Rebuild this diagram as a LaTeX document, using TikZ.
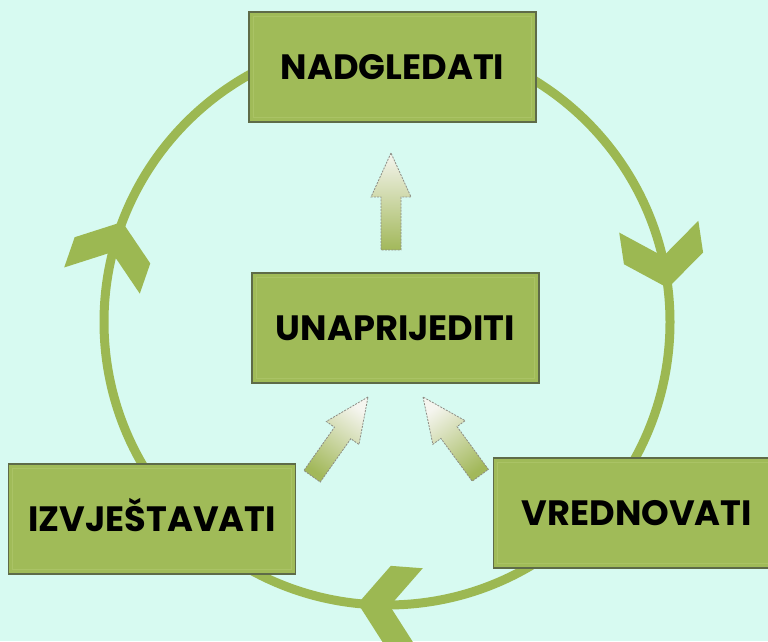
\documentclass[tikz,border=0pt]{standalone}
\usepackage{fontspec}
\setmainfont{Poppins}
\usetikzlibrary{calc}

\definecolor{bgmint}{HTML}{D7FAF1}
\definecolor{leaf}{HTML}{A0BB58}
\definecolor{ring}{HTML}{9CB852}
\definecolor{rim}{HTML}{5E6B48}
\definecolor{bevel}{HTML}{AAC365}
\definecolor{pale}{HTML}{F5F5EF}
\definecolor{cream}{HTML}{E8ECD2}
\definecolor{moss}{HTML}{A2B85A}
\definecolor{edge}{HTML}{8C8C84}

\tikzset{
  stage/.style={draw=rim, line width=1.5, fill=leaf, minimum width=287,
    minimum height=110, inner sep=0, text height=25, text depth=0,
    font=\fontsize{35.2}{40}\selectfont\bfseries},
  innerframe/.style={draw=bevel, line width=1.2},
  ringline/.style={draw=ring, line width=9},
  arrowshade/.style={draw=edge, line width=0.8, dash pattern=on 2pt off 1.2pt,
    top color=pale, middle color=cream, bottom color=moss}
}

% chevron head on the cycle: tip coordinate, heading angle
\newcommand\chevron[2]{%
  \fill[ring, shift={(#1)}, rotate=#2]
    (0,0) -- (-30,40) -- (-62,40) -- (-32,0) -- (-62,-40) -- (-30,-40) -- cycle;}

% shaded block arrow: tip coordinate, heading angle, shading angle
\newcommand\blockarrow[3]{%
  \shadedraw[arrowshade, shading angle=#3]
    (#1) -- ($(#1)+({#2+180}:44)+({#2+90}:20)$)
    -- ($(#1)+({#2+180}:44)+({#2+90}:10)$)
    -- ($(#1)+({#2+180}:97)+({#2+90}:10)$)
    -- ($(#1)+({#2+180}:97)+({#2-90}:10)$)
    -- ($(#1)+({#2+180}:44)+({#2-90}:10)$)
    -- ($(#1)+({#2+180}:44)+({#2-90}:20)$) -- cycle;}

% faint inset frame inside a stage box
\newcommand\insetframe[1]{%
  \draw[innerframe] ([shift={(5,5)}]#1.south west) rectangle ([shift={(-5,-5)}]#1.north east);}

\begin{document}
\begin{tikzpicture}[x=1pt, y=1pt]
  \useasboundingbox (0,0) rectangle (768,641);
  \fill[bgmint] (0,0) rectangle (768,641);

  % the cycle
  \coordinate (C) at (387,319);
  \draw[ringline] (C) circle[radius=283];
  \coordinate (tR) at ($(C)+(6.9:283)$);
  \coordinate (tB) at ($(C)+(264.1:283)$);
  \coordinate (tL) at ($(C)+(159.3:283)$);
  \chevron{tR}{-81.5}
  \chevron{tB}{175.7}
  \chevron{tL}{70.9}

  % stages
  \node[stage] (monitor) at (392.5,574) {NADGLEDATI};
  \node[stage] (report)  at (152,122)   {IZVJEŠTAVATI};
  \node[stage] (improve) at (395.5,313) {UNAPRIJEDITI};
  \node[stage] (assess)  at (637,128)   {VREDNOVATI};
  \insetframe{monitor}
  \insetframe{report}
  \insetframe{improve}
  \insetframe{assess}

  % inner arrows
  \coordinate (aU) at (391,488);
  \coordinate (aL) at (368,244);
  \coordinate (aR) at (423,244);
  \blockarrow{aU}{90}{0}
  \blockarrow{aL}{54.8}{-35.2}
  \blockarrow{aR}{126.2}{36.2}
\end{tikzpicture}
\end{document}
